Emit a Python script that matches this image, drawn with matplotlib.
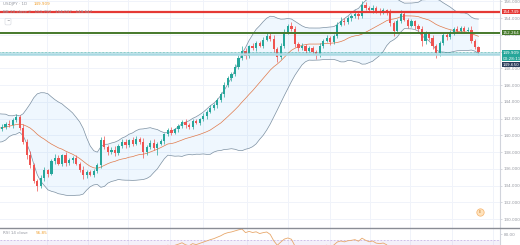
import numpy as np
import pandas as pd
import matplotlib
matplotlib.use("Agg")
import matplotlib.pyplot as plt
import matplotlib.transforms as mtransforms
from matplotlib.lines import Line2D

# --- data (daily candles) ---
# closes before the visible window, only used to warm up the bands / RSI
warmup = [139.5, 139.0, 139.8, 140.3, 139.9, 140.6, 141.2, 140.8, 141.5, 142.0,
          141.4, 140.9, 141.6, 142.3, 141.8, 141.2, 140.6, 141.3, 140.9]

closes = [141.0, 141.4, 141.2, 141.8, 142.2, 140.9, 139.2, 137.6, 136.4, 134.6,
          133.9, 134.9, 135.8, 135.4, 136.9, 137.3, 136.6, 137.6, 136.7, 137.0,
          137.3, 136.6, 135.9, 135.2, 135.6, 135.3, 135.7, 136.4, 139.4, 138.6,
          138.0, 138.3, 137.9, 138.7, 139.2, 138.8, 139.4, 139.0, 139.6, 139.2,
          138.0, 138.6, 139.1, 138.5, 139.0, 139.3, 140.1, 140.6, 140.3, 140.7,
          141.1, 141.6, 141.2, 141.0, 141.7, 141.5, 141.9, 142.3, 142.8, 143.2,
          143.6, 144.2, 144.9, 146.0, 146.8, 147.3, 148.2, 149.2, 150.1, 149.5,
          150.6, 150.4, 151.0, 150.7, 151.4, 151.9, 151.5, 150.3, 149.3, 150.7,
          152.3, 153.0, 152.7, 150.9, 150.4, 150.6, 150.1, 150.4, 150.0, 149.6,
          150.7, 151.3, 151.6, 151.1, 151.9, 153.2, 153.7, 153.5, 154.0, 154.2,
          154.5, 154.2, 155.6, 155.2, 154.9, 155.2, 154.8, 154.7, 154.9, 154.6,
          153.4, 152.5, 153.7, 154.5, 153.8, 153.1, 153.6, 153.0, 152.7, 151.2,
          152.1, 151.6, 150.6, 149.8, 151.0, 152.0, 151.7, 152.3, 152.7, 152.4,
          152.8, 152.5, 152.6, 151.3, 150.5, 149.909]

wick_up = [0.3, 0.2, 0.4, 0.3, 0.3, 0.2, 0.4, 0.3, 0.5, 0.3,
           0.2, 0.3, 0.4, 0.2, 0.3, 0.5, 0.3, 0.2, 0.4, 0.3,
           0.2, 0.3, 0.2, 0.4, 0.3, 0.2, 0.3, 0.3, 0.4, 0.5,
           0.2, 0.3, 0.4, 0.2, 0.3, 0.3, 0.2, 0.4, 0.3, 0.2,
           0.5, 0.2, 0.3, 0.4, 0.2, 0.3, 0.2, 0.3, 0.4, 0.2,
           0.3, 0.2, 0.4, 0.3, 0.2, 0.3, 0.2, 0.3, 0.2, 0.4,
           0.3, 0.2, 0.3, 0.4, 0.3, 0.2, 0.3, 0.4, 0.5, 0.3,
           0.2, 0.4, 0.3, 0.2, 0.3, 0.4, 0.3, 0.5, 0.2, 0.3,
           0.4, 0.3, 0.5, 0.3, 0.2, 0.4, 0.3, 0.2, 0.3, 0.2,
           0.3, 0.2, 0.4, 0.3, 0.2, 0.3, 0.4, 0.3, 0.2, 0.3,
           0.4, 0.3, 0.4, 0.3, 0.2, 0.3, 0.2, 0.4, 0.3, 0.2,
           0.5, 0.3, 0.2, 0.4, 0.3, 0.2, 0.3, 0.2, 0.3, 0.4,
           0.3, 0.2, 0.4, 0.3, 0.2, 0.3, 0.2, 0.3, 0.2, 0.3,
           0.2, 0.3, 0.3, 0.4, 0.2, 0.2]

wick_dn = [0.2, 0.3, 0.2, 0.3, 0.2, 0.3, 0.2, 0.4, 0.3, 0.3,
           0.5, 0.2, 0.3, 0.4, 0.2, 0.3, 0.2, 0.3, 0.4, 0.2,
           0.3, 0.2, 0.3, 0.4, 0.3, 0.2, 0.3, 0.2, 0.3, 0.2,
           0.3, 0.2, 0.4, 0.3, 0.2, 0.3, 0.2, 0.3, 0.2, 0.3,
           0.7, 0.3, 0.2, 0.3, 0.9, 0.2, 0.3, 0.2, 0.3, 0.2,
           0.3, 0.2, 0.3, 0.2, 0.3, 0.2, 0.3, 0.2, 0.3, 0.2,
           0.2, 0.3, 0.2, 0.3, 0.2, 0.3, 0.2, 0.3, 0.2, 0.4,
           0.3, 0.2, 0.3, 0.2, 0.3, 0.2, 0.3, 0.3, 0.6, 0.2,
           0.3, 0.2, 0.3, 0.4, 0.3, 0.2, 0.3, 0.2, 0.3, 0.5,
           0.2, 0.3, 0.2, 0.3, 0.2, 0.3, 0.2, 0.3, 0.2, 0.3,
           0.2, 0.3, 0.2, 0.3, 0.2, 0.3, 0.2, 0.3, 0.2, 0.3,
           0.4, 0.6, 0.2, 0.3, 0.2, 0.3, 0.2, 0.3, 0.2, 0.5,
           0.3, 0.2, 0.3, 0.6, 0.3, 0.2, 0.3, 0.2, 0.3, 0.2,
           0.2, 0.3, 0.2, 0.3, 0.2, 0.3]

resistance = 154.749
mid_level = 152.264
support = 149.650
last_price = 149.909
price_ticks = [130, 132, 134, 136, 138, 140, 142, 144, 146, 148, 150, 152, 154, 156]
vgrid = [12.7, 24.3, 35.6, 47.6, 57, 69.4, 81, 93, 104.2, 115.5, 127.4, 139]

# --- build series ---
allc = pd.Series(warmup + closes)
x_all = np.arange(len(allc)) - len(warmup)
opens = np.array([140.7] + closes[:-1])
c = np.array(closes)
hi = np.maximum(opens, c) + np.array(wick_up)
lo = np.minimum(opens, c) - np.array(wick_dn)
x = np.arange(len(c))

basis = allc.rolling(20, min_periods=2).mean()
dev = allc.rolling(20, min_periods=2).std(ddof=0)
upper = basis + 2 * dev
lower = basis - 2 * dev

delta = allc.diff()
gain = delta.clip(lower=0).ewm(alpha=1 / 14, adjust=False).mean()
loss = (-delta.clip(upper=0)).ewm(alpha=1 / 14, adjust=False).mean()
rsi = 100 - 100 / (1 + gain / loss)

UP = "#26a69a"
DN = "#ef5350"
GRID = "#f0f3fa"
TXT = "#9598a1"
FS = 3.0

fig = plt.figure(figsize=(5.2, 2.45), dpi=100)
fig.patch.set_facecolor("white")
ax = fig.add_axes([0, 17 / 245, 500 / 520, 228 / 245])
rax = fig.add_axes([0, 0, 500 / 520, 17 / 245])

for a in (ax, rax):
    a.set_xlim(-0.57, 141.1)
    for s in ("top", "left", "bottom"):
        a.spines[s].set_visible(False)
    a.spines["right"].set_color("#d1d4dc")
    a.spines["right"].set_linewidth(0.8)
    a.set_xticks([])
    a.yaxis.tick_right()
    a.tick_params(axis="y", length=1.5, width=0.5, color="#c8cbd3",
                  labelsize=FS, labelcolor=TXT, pad=1)
    for v in vgrid:
        a.axvline(v, color=GRID, lw=0.7, zorder=0)

ax.set_ylim(128.93, 156.15)
ax.set_yticks(price_ticks)
ax.set_yticklabels([f"{t:.3f}" for t in price_ticks])
for t in price_ticks:
    ax.axhline(t, color=GRID, lw=0.7, zorder=0)

# bollinger bands
ax.fill_between(x_all, lower, upper, color="#2196f3", alpha=0.07, lw=0, zorder=1)
ax.plot(x_all, upper, color="#7b8fa1", lw=0.5, zorder=2)
ax.plot(x_all, lower, color="#7b8fa1", lw=0.5, zorder=2)
ax.plot(x_all, basis, color="#e0794a", lw=0.5, zorder=2)

# candles
cols = np.where(c >= opens, UP, DN)
ax.vlines(x, lo, hi, colors=cols, lw=0.5, zorder=3)
body = np.maximum(np.abs(c - opens), 0.06)
ax.bar(x, body, bottom=np.minimum(opens, c), width=0.62, color=cols, lw=0, zorder=4)

# horizontal levels
ax.axhline(resistance, color="#e53935", lw=1.6, zorder=5)
ax.axhline(mid_level, color="#45792b", lw=1.4, zorder=5)
ax.axhline(support, color="#a9d9e3", lw=1.8, zorder=5)
ax.axhline(last_price, color=UP, lw=0.5, ls=(0, (1, 1)), zorder=5)

# event icon near the bottom right
ax.scatter([135.5], [130.8], s=28, color="#ffe3bd", edgecolor="#f5b26b", lw=0.5, zorder=6)
ax.text(135.5, 130.8, "E", fontsize=2.5, color="#c47a2c", ha="center", va="center", zorder=7)

# price labels on the axis
trans = mtransforms.blended_transform_factory(ax.transAxes, ax.transData)
def axis_label(y, txt, bg):
    ax.text(1.006, y, txt, transform=trans, fontsize=FS, color="white",
            ha="left", va="center", clip_on=False, zorder=10,
            bbox=dict(boxstyle="square,pad=0.15", fc=bg, ec="none"))

axis_label(resistance, "154.749", "#e53935")
axis_label(mid_level, "152.264", "#45792b")
axis_label(149.82, "149.909", UP)
axis_label(149.13, "00:28:11", UP)
axis_label(148.42, "149.650", "#2a3e5c")

# legend text at top left
ax.text(0.006, 0.992, "USDJPY · 1D", transform=ax.transAxes, fontsize=FS,
        color=TXT, va="top", ha="left", zorder=11)
ax.text(0.068, 0.992, "149.909", transform=ax.transAxes, fontsize=FS,
        color="#f0a030", va="top", ha="left", zorder=11)
ax.text(0.006, 0.955, "BB 20 close 2   151.792   154.037   149.547", transform=ax.transAxes,
        fontsize=FS, color=TXT, va="top", ha="left", zorder=11)
ax.text(0.016, 0.905, "^", transform=ax.transAxes, fontsize=FS, color="#50535e",
        va="center", ha="center", zorder=11,
        bbox=dict(boxstyle="round,pad=0.3", fc="white", ec="#d1d4dc", lw=0.4))

# RSI panel
rax.set_ylim(61.7, 90)
rax.axhspan(30, 70, color="#7e57c2", alpha=0.08, lw=0)
rax.axhline(70, color="#c9b6e8", lw=0.6, ls=(0, (2, 2)))
rax.plot(x_all, rsi, color="#e8a86c", lw=0.6)
rax.set_yticks([80])
rax.set_yticklabels(["80.00"])
rax.text(0.006, 0.83, "RSI 14 close", transform=rax.transAxes, fontsize=FS,
         color=TXT, va="top", ha="left")
rax.text(0.072, 0.83, "56.85", transform=rax.transAxes, fontsize=FS,
         color="#f0a030", va="top", ha="left")

fig.add_artist(Line2D([0, 1], [17 / 245, 17 / 245], color="#8a8d95", lw=1.0,
                      transform=fig.transFigure))

fig.savefig("out.png", dpi=100)
